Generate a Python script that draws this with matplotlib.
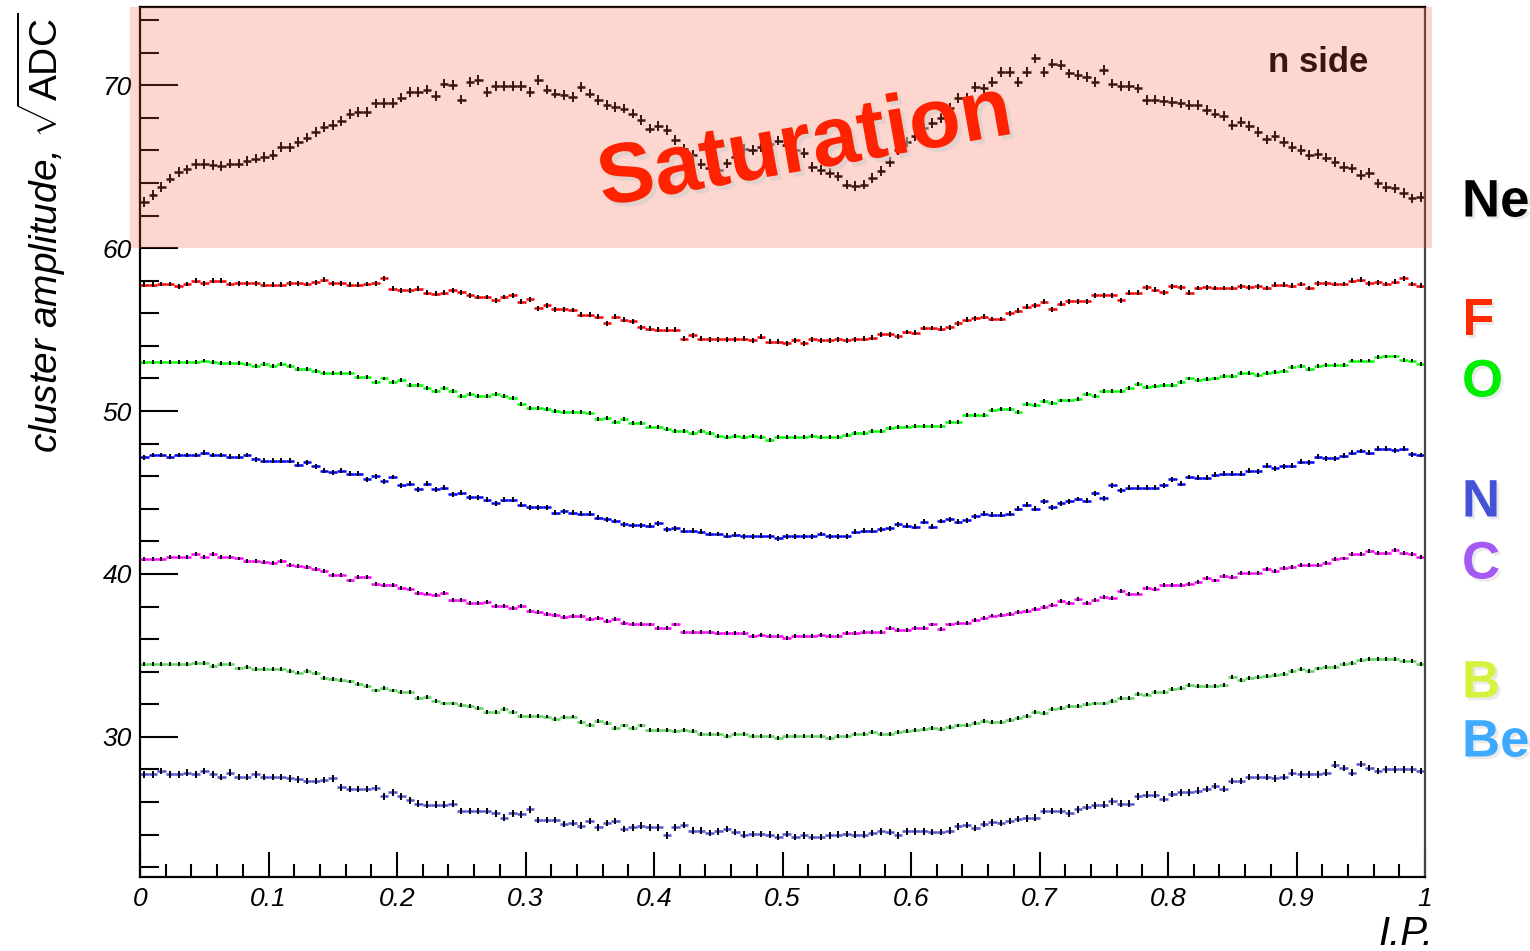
import numpy as np
import matplotlib.pyplot as plt
from matplotlib.patches import Rectangle
from matplotlib.ticker import MultipleLocator, FuncFormatter
import matplotlib.patheffects as pe

plt.rcParams['font.family'] = ['Liberation Sans', 'DejaVu Sans']
plt.rcParams['mathtext.fontset'] = 'custom'
plt.rcParams['mathtext.rm'] = 'Liberation Sans'
plt.rcParams['mathtext.it'] = 'Liberation Sans:italic'

#binning of the I.P. axis
n_bins = 150

#cluster amplitude per bin, one list per ion
ne = [62.84, 63.25, 63.76, 64.27, 64.68, 64.83, 65.15, 65.15, 65.09, 65.03,
      65.19, 65.19, 65.36, 65.5, 65.6, 65.7, 66.2, 66.18, 66.52, 66.79,
      67.14, 67.44, 67.55, 67.81, 68.22, 68.36, 68.36, 68.88, 68.92, 68.92,
      69.24, 69.59, 69.59, 69.73, 69.33, 70.1, 70.0, 69.12, 70.2, 70.3,
      69.59, 69.94, 69.94, 69.94, 69.94, 69.59, 70.3, 69.73, 69.49, 69.39,
      69.28, 69.9, 69.49, 69.08, 68.77, 68.67, 68.57, 68.26, 67.85, 67.34,
      67.48, 67.24, 66.63, 66.11, 65.7, 65.15, 64.9, 64.8, 65.2, 65.6,
      66.1, 66.0, 66.2, 66.4, 66.6, 66.3, 66.0, 65.85, 65.0, 64.8,
      64.6, 64.4, 63.9, 63.8, 63.9, 64.3, 64.75, 65.3, 66.0, 66.5,
      66.9, 67.4, 67.7, 68.0, 68.6, 69.2, 69.2, 69.9, 69.8, 70.2,
      70.82, 70.82, 70.2, 70.82, 71.64, 70.82, 71.33, 71.23, 70.72, 70.61,
      70.51, 70.2, 70.92, 70.1, 69.94, 69.94, 69.8, 69.08, 69.12, 69.04,
      68.98, 68.88, 68.77, 68.77, 68.47, 68.26, 68.1, 67.55, 67.75, 67.48,
      67.14, 66.67, 66.87, 66.52, 66.2, 66.0, 65.7, 65.77, 65.56, 65.3,
      64.99, 64.89, 64.48, 64.62, 63.97, 63.76, 63.66, 63.39, 63.05, 63.15]

f = [57.75, 57.75, 57.8, 57.8, 57.65, 57.8, 58.0, 57.85, 58.0, 58.0,
     57.8, 57.85, 57.85, 57.85, 57.75, 57.75, 57.75, 57.85, 57.85, 57.8,
     57.9, 58.05, 57.85, 57.85, 57.75, 57.75, 57.8, 57.85, 58.15, 57.5,
     57.4, 57.4, 57.5, 57.25, 57.2, 57.25, 57.4, 57.3, 57.1, 57.0,
     57.0, 56.8, 57.0, 57.1, 56.7, 56.85, 56.3, 56.5, 56.25, 56.25,
     56.2, 55.9, 55.9, 55.8, 55.4, 55.8, 55.6, 55.5, 55.15, 55.05,
     55.0, 55.0, 55.0, 54.45, 54.65, 54.45, 54.4, 54.4, 54.4, 54.4,
     54.45, 54.35, 54.55, 54.25, 54.25, 54.15, 54.35, 54.15, 54.4, 54.35,
     54.35, 54.4, 54.35, 54.4, 54.45, 54.5, 54.7, 54.7, 54.6, 54.85,
     54.8, 55.1, 55.1, 55.05, 55.15, 55.4, 55.6, 55.7, 55.8, 55.65,
     55.65, 56.0, 56.15, 56.4, 56.5, 56.7, 56.25, 56.6, 56.75, 56.75,
     56.75, 57.1, 57.1, 57.1, 56.8, 57.25, 57.25, 57.6, 57.45, 57.3,
     57.65, 57.6, 57.25, 57.55, 57.6, 57.55, 57.55, 57.55, 57.65, 57.6,
     57.65, 57.55, 57.75, 57.75, 57.7, 57.8, 57.55, 57.85, 57.85, 57.8,
     57.8, 58.0, 58.05, 57.85, 57.9, 57.8, 57.95, 58.15, 57.8, 57.7]

o = [53.0, 53.0, 53.0, 53.0, 53.0, 53.0, 53.0, 53.1, 53.0, 52.95,
     52.95, 52.95, 52.9, 52.75, 52.9, 52.75, 52.9, 52.75, 52.6, 52.6,
     52.45, 52.35, 52.35, 52.35, 52.35, 52.1, 52.1, 51.8, 52.0, 51.8,
     51.9, 51.6, 51.6, 51.4, 51.25, 51.4, 51.25, 50.9, 51.05, 50.9,
     50.9, 51.05, 50.9, 50.8, 50.45, 50.2, 50.2, 50.1, 50.0, 49.95,
     49.95, 49.95, 49.9, 49.5, 49.6, 49.3, 49.5, 49.25, 49.25, 49.05,
     49.0, 48.9, 48.8, 48.8, 48.65, 48.75, 48.65, 48.45, 48.4, 48.45,
     48.4, 48.45, 48.4, 48.25, 48.4, 48.4, 48.4, 48.4, 48.45, 48.4,
     48.4, 48.4, 48.55, 48.65, 48.65, 48.75, 48.8, 48.95, 49.0, 49.05,
     49.1, 49.1, 49.1, 49.1, 49.3, 49.3, 49.75, 49.75, 49.75, 50.05,
     50.1, 50.15, 49.95, 50.45, 50.35, 50.6, 50.5, 50.65, 50.65, 50.75,
     51.05, 50.9, 51.25, 51.25, 51.25, 51.4, 51.65, 51.5, 51.55, 51.6,
     51.6, 51.8, 52.0, 51.9, 51.95, 52.0, 52.15, 52.15, 52.35, 52.35,
     52.2, 52.35, 52.4, 52.45, 52.7, 52.75, 52.6, 52.75, 52.85, 52.85,
     52.85, 53.1, 53.1, 53.1, 53.3, 53.35, 53.35, 53.15, 53.1, 52.9]

n = [47.15, 47.3, 47.3, 47.2, 47.3, 47.3, 47.3, 47.45, 47.3, 47.3,
     47.2, 47.2, 47.3, 47.05, 46.95, 46.95, 46.95, 46.95, 46.7, 46.85,
     46.6, 46.35, 46.25, 46.35, 46.15, 46.15, 45.8, 46.0, 45.7, 45.95,
     45.45, 45.55, 45.2, 45.55, 45.2, 45.3, 44.9, 45.0, 44.7, 44.7,
     44.55, 44.35, 44.55, 44.55, 44.25, 44.1, 44.1, 44.1, 43.75, 43.85,
     43.75, 43.7, 43.7, 43.45, 43.35, 43.25, 43.05, 43.0, 43.0, 42.95,
     43.1, 42.75, 42.8, 42.65, 42.65, 42.6, 42.45, 42.45, 42.35, 42.4,
     42.3, 42.3, 42.35, 42.3, 42.2, 42.3, 42.3, 42.3, 42.3, 42.45,
     42.3, 42.3, 42.3, 42.6, 42.65, 42.65, 42.75, 42.8, 43.05, 42.95,
     42.9, 43.2, 42.9, 43.25, 43.35, 43.2, 43.3, 43.55, 43.7, 43.65,
     43.65, 43.7, 44.0, 44.25, 44.0, 44.45, 44.1, 44.35, 44.45, 44.6,
     44.5, 44.95, 44.65, 45.45, 45.15, 45.3, 45.3, 45.3, 45.3, 45.45,
     45.8, 45.55, 45.95, 45.9, 45.9, 46.1, 46.15, 46.15, 46.15, 46.35,
     46.3, 46.65, 46.5, 46.6, 46.65, 46.9, 46.85, 47.2, 47.1, 47.1,
     47.25, 47.45, 47.55, 47.45, 47.7, 47.7, 47.6, 47.7, 47.35, 47.3]

c = [40.9, 40.9, 40.9, 41.05, 41.05, 41.05, 41.2, 41.05, 41.2, 41.05,
     41.05, 40.95, 40.8, 40.8, 40.75, 40.7, 40.8, 40.55, 40.5, 40.45,
     40.3, 40.2, 39.95, 39.95, 39.6, 39.8, 39.8, 39.4, 39.35, 39.35,
     39.15, 39.05, 38.85, 38.8, 38.7, 38.85, 38.4, 38.4, 38.2, 38.2,
     38.3, 38.05, 38.05, 37.9, 38.05, 37.75, 37.65, 37.55, 37.5, 37.35,
     37.4, 37.4, 37.25, 37.3, 37.1, 37.25, 37.0, 36.95, 36.95, 36.9,
     36.7, 36.7, 36.9, 36.45, 36.45, 36.45, 36.45, 36.4, 36.35, 36.35,
     36.35, 36.2, 36.25, 36.2, 36.2, 36.05, 36.2, 36.2, 36.2, 36.25,
     36.2, 36.2, 36.35, 36.35, 36.45, 36.45, 36.45, 36.7, 36.55, 36.55,
     36.7, 36.7, 36.9, 36.6, 36.9, 37.0, 37.0, 37.15, 37.3, 37.45,
     37.5, 37.55, 37.65, 37.75, 37.85, 38.0, 38.1, 38.35, 38.2, 38.45,
     38.2, 38.4, 38.6, 38.55, 38.95, 38.75, 38.8, 39.15, 39.05, 39.35,
     39.35, 39.35, 39.4, 39.5, 39.75, 39.6, 39.85, 39.8, 40.05, 40.05,
     40.05, 40.3, 40.2, 40.35, 40.45, 40.55, 40.55, 40.55, 40.7, 40.9,
     40.95, 41.2, 41.2, 41.4, 41.3, 41.3, 41.45, 41.3, 41.2, 41.05]

b = [34.45, 34.45, 34.45, 34.45, 34.45, 34.45, 34.55, 34.55, 34.35, 34.45,
     34.45, 34.2, 34.3, 34.15, 34.15, 34.15, 34.15, 34.05, 33.95, 34.05,
     33.9, 33.6, 33.55, 33.5, 33.4, 33.25, 33.1, 32.85, 33.0, 32.85,
     32.75, 32.75, 32.4, 32.45, 32.2, 32.05, 32.05, 31.95, 31.9, 31.8,
     31.55, 31.55, 31.7, 31.5, 31.3, 31.3, 31.3, 31.25, 31.1, 31.2,
     31.25, 30.9, 30.75, 30.95, 30.85, 30.55, 30.7, 30.55, 30.7, 30.4,
     30.4, 30.4, 30.35, 30.4, 30.35, 30.2, 30.15, 30.2, 30.05, 30.2,
     30.15, 30.05, 30.05, 30.05, 29.95, 30.05, 30.05, 30.05, 30.05, 30.05,
     29.95, 30.05, 30.05, 30.15, 30.15, 30.3, 30.15, 30.15, 30.3, 30.35,
     30.4, 30.5, 30.55, 30.5, 30.6, 30.7, 30.75, 30.85, 30.95, 30.9,
     30.9, 31.05, 31.15, 31.3, 31.55, 31.45, 31.7, 31.8, 31.9, 31.9,
     32.0, 32.05, 32.05, 32.2, 32.4, 32.4, 32.65, 32.6, 32.75, 32.75,
     32.95, 33.0, 33.2, 33.15, 33.15, 33.15, 33.2, 33.65, 33.5, 33.6,
     33.7, 33.75, 33.8, 33.85, 34.05, 34.15, 34.05, 34.2, 34.3, 34.3,
     34.45, 34.55, 34.7, 34.8, 34.8, 34.8, 34.8, 34.65, 34.65, 34.5]

be = [27.7, 27.7, 27.9, 27.7, 27.7, 27.8, 27.7, 27.9, 27.7, 27.55,
      27.8, 27.55, 27.55, 27.7, 27.55, 27.55, 27.55, 27.45, 27.4, 27.3,
      27.3, 27.35, 27.45, 26.9, 26.8, 26.8, 26.8, 26.85, 26.35, 26.6,
      26.35, 26.1, 25.9, 25.85, 25.85, 25.85, 25.9, 25.45, 25.45, 25.45,
      25.45, 25.3, 25.05, 25.3, 25.25, 25.55, 24.9, 24.9, 24.9, 24.65,
      24.7, 24.55, 24.85, 24.45, 24.7, 24.85, 24.35, 24.45, 24.55, 24.45,
      24.45, 23.95, 24.45, 24.6, 24.25, 24.25, 24.1, 24.2, 24.35, 24.15,
      24.0, 24.05, 24.05, 24.0, 23.85, 24.05, 23.85, 23.95, 23.85, 23.85,
      23.95, 24.0, 24.05, 24.0, 24.0, 24.1, 24.2, 24.15, 23.95, 24.2,
      24.2, 24.2, 24.15, 24.15, 24.25, 24.5, 24.6, 24.4, 24.65, 24.75,
      24.7, 24.85, 24.95, 25.0, 25.05, 25.45, 25.45, 25.45, 25.3, 25.55,
      25.7, 25.8, 25.85, 26.05, 25.9, 25.9, 26.35, 26.45, 26.45, 26.2,
      26.5, 26.6, 26.6, 26.7, 26.8, 27.0, 26.8, 27.3, 27.3, 27.55,
      27.55, 27.55, 27.45, 27.55, 27.8, 27.7, 27.7, 27.7, 27.8, 28.3,
      28.1, 27.8, 28.35, 28.1, 27.9, 28.0, 28.0, 28.0, 28.0, 27.9]

#ion labels on the right and their colours
ions = ['Ne', 'F', 'O', 'N', 'C', 'B', 'Be']
ion_label_colors = ['#000000', '#FF2A00', '#00EE00', '#4452D6', '#A459F5', '#D4F23E', '#3DAAFF']
line_colors = ['#000000', '#FF0000', '#00FF00', '#0000FF', '#FF00FF', '#5CD65C', '#5454D8']
errors = [0.3, 0.15, 0.12, 0.15, 0.12, 0.12, 0.2]
label_y = [197, 316, 377, 497, 559, 678, 737]  #pixel rows of the labels

x = (np.arange(n_bins) + 0.5) / n_bins
series = [ne, f, o, n, c, b, be]

fig = plt.figure(figsize=(15.3, 9.51), dpi=100)
ax = fig.add_axes([140/1530, 1 - 877/951, (1425 - 140)/1530, (877 - 7)/951])

for y, col, err in zip(series, line_colors, errors):
    ax.errorbar(x, y, xerr=0.5/n_bins, fmt='none', ecolor=col, elinewidth=1.8, capsize=0)
    ax.errorbar(x, y, yerr=err, fmt='none', ecolor='black', elinewidth=1.4, capsize=0)

ax.set_xlim(0, 1)
ax.set_ylim(21.4, 74.8)

ax.xaxis.set_major_locator(MultipleLocator(0.1))
ax.xaxis.set_minor_locator(MultipleLocator(0.02))
ax.yaxis.set_major_locator(MultipleLocator(10))
ax.yaxis.set_minor_locator(MultipleLocator(2))
ax.xaxis.set_major_formatter(FuncFormatter(lambda v, p: '%g' % round(v, 2)))
ax.yaxis.set_major_formatter(FuncFormatter(lambda v, p: '%g' % v))

ax.tick_params(axis='both', which='both', direction='in', width=1.5, colors='black',
               top=False, right=False, labelsize=19)
ax.tick_params(axis='y', which='major', length=27, pad=6)
ax.tick_params(axis='y', which='minor', length=13.5)
ax.tick_params(axis='x', which='major', length=18, pad=7)
ax.tick_params(axis='x', which='minor', length=9.5)
for lab in ax.get_xticklabels() + ax.get_yticklabels():
    lab.set_fontstyle('italic')

for s in ax.spines.values():
    s.set_linewidth(1.6)
ax.spines['right'].set_color('#444444')

#axis titles
fig.text(0.027, 0.987, r'cluster amplitude, $\sqrt{\mathrm{ADC}}$', rotation=90,
         ha='center', va='top', fontsize=28, style='italic')
fig.text(1433/1530, 1 - 934/951, 'I.P.', ha='right', va='center', fontsize=29, style='italic')

ax.text(1318/1530, 1 - 62/951, 'n side', transform=fig.transFigure, ha='center', va='center',
        fontsize=25, fontweight='bold', color='black')

#saturation overlay
fig.patches.append(Rectangle((130/1530, 1 - 248/951), (1432 - 130)/1530, (248 - 7)/951,
                             transform=fig.transFigure, facecolor='#F7563A', alpha=0.24,
                             edgecolor='none', zorder=5))

fig.text(805/1530, 1 - 148/951, 'Saturation', rotation=10, ha='center', va='center',
         fontsize=61, fontweight='bold', color='#FF2200', zorder=6,
         path_effects=[pe.withSimplePatchShadow(offset=(3, -3), shadow_rgbFace='#CCCCCC', alpha=0.5)])

for name, col, py in zip(ions, ion_label_colors, label_y):
    fig.text(1462/1530, 1 - py/951, name, ha='left', va='center_baseline', fontsize=38,
             fontweight='bold', color=col, zorder=6,
             path_effects=[pe.withSimplePatchShadow(offset=(2, -2), shadow_rgbFace='#CCCCCC', alpha=0.4)])

fig.savefig('out.png', dpi=100)
